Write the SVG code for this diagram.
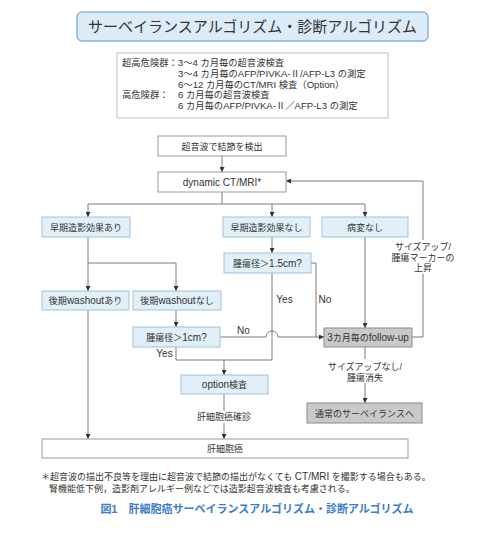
<svg xmlns="http://www.w3.org/2000/svg" width="480" height="538" viewBox="0 0 480 538">
<style>
text{font-family:'Liberation Sans','Noto Sans CJK JP',sans-serif;fill:#333;}
.t{font-size:9px;text-anchor:middle;}
.info{font-size:9.3px;}
.L{font-size:9.6px;}
.l{font-size:10px;}
.lbl{font-size:9px;text-anchor:middle;}
.yn{font-size:10px;text-anchor:middle;}
.w{fill:#fff;stroke:#9a9a9a;stroke-width:1;}
.b{fill:#e1eff9;stroke:#a3c2dc;stroke-width:1;}
.g{fill:#c9c9c9;stroke:#8a8a8a;stroke-width:1;}
.ln{fill:none;stroke:#7a7a7a;stroke-width:1;}
.ar{fill:none;stroke:#7a7a7a;stroke-width:1;marker-end:url(#ah);}
</style>
<defs>
<marker id="ah" viewBox="0 0 6 6" refX="6" refY="3" markerWidth="5" markerHeight="5" markerUnits="userSpaceOnUse" orient="auto">
<path d="M0,0 L6,3 L0,6 Z" fill="#333"/>
</marker>
</defs>
<rect width="480" height="538" fill="#fff"/>

<g id="title">
<rect x="77" y="12" width="351" height="29" rx="5" fill="#dcebf8" stroke="#8ab6dc" stroke-width="1.5"/>
<text x="252.5" y="32" style="font-size:15px;text-anchor:middle;">サーベイランスアルゴリズム・診断アルゴリズム</text>
</g>

<g id="info">
<rect x="117" y="53" width="271" height="65" fill="#fff" stroke="#c0c0c0"/>
<text class="info" x="122" y="66">超高危険群：<tspan class="L">3</tspan>～<tspan class="L">4</tspan> カ月毎の超音波検査</text>
<text class="info" x="178" y="76.8"><tspan class="L">3</tspan>～<tspan class="L">4</tspan> カ月毎の<tspan class="L">AFP/PIVKA-</tspan>Ⅱ<tspan class="L">/AFP-L3</tspan> の測定</text>
<text class="info" x="178" y="87.6"><tspan class="L">6</tspan>～<tspan class="L">12</tspan> カ月毎の<tspan class="L">CT/MRI</tspan> 検査（<tspan class="L">Option</tspan>）</text>
<text class="info" x="122" y="98.4">高危険群：</text>
<text class="info" x="178" y="98.4"><tspan class="L">6</tspan> カ月毎の超音波検査</text>
<text class="info" x="178" y="109.2"><tspan class="L">6</tspan> カ月毎の<tspan class="L">AFP/PIVKA-</tspan>Ⅱ／<tspan class="L">AFP-L3</tspan> の測定</text>
</g>

<g id="connectors">
<line class="ar" x1="222" y1="156" x2="222" y2="172"/>
<polyline class="ln" points="222,192 222,204"/>
<line class="ln" x1="88" y1="204" x2="365" y2="204"/>
<line class="ar" x1="88" y1="204" x2="88" y2="217"/>
<line class="ar" x1="272" y1="204" x2="272" y2="217"/>
<line class="ar" x1="365" y1="204" x2="365" y2="217"/>
<line class="ar" x1="88" y1="237" x2="88" y2="291"/>
<polyline class="ar" points="88,263 176,263 176,291"/>
<line class="ar" x1="272" y1="237" x2="272" y2="253"/>
<polyline class="ln" points="311,263 316,263 316,337"/>
<path class="ar" d="M220,337 L266,337 A6,6 0 0 1 278,337 L324,337"/>
<polyline class="ln" points="272,273 272,360 176,360 176,347"/>
<line class="ar" x1="224" y1="360" x2="224" y2="375"/>
<line class="ar" x1="176" y1="310" x2="176" y2="327"/>
<line class="ar" x1="365" y1="237" x2="365" y2="328"/>
<polyline class="ar" points="412,337 423,337 423,181 286,181"/>
<line class="ar" x1="365" y1="347" x2="365" y2="403"/>
<line class="ar" x1="224" y1="394" x2="224" y2="439"/>
<line class="ar" x1="88" y1="310" x2="88" y2="439"/>
<rect x="390" y="240" width="66" height="34" fill="#fff"/>
<text class="lbl" x="423" y="249.5">サイズアップ/</text>
<text class="lbl" x="423" y="260.5">腫瘍マーカーの</text>
<text class="lbl" x="423" y="271">上昇</text>
<rect x="326" y="359" width="78" height="24" fill="#fff"/>
<text class="lbl" x="365" y="369.5">サイズアップなし/</text>
<text class="lbl" x="365" y="380.5">腫瘍消失</text>
<rect x="194" y="411" width="60" height="12" fill="#fff"/>
<text class="lbl" x="224" y="420">肝細胞癌確診</text>
<text class="yn" x="284.5" y="303">Yes</text>
<text class="yn" x="325" y="303">No</text>
<text class="yn" x="243.5" y="334">No</text>
<text class="yn" x="164.5" y="357">Yes</text>
</g>

<g id="n1"><rect class="w" x="158" y="136" width="128" height="20"/><text class="t" x="222" y="149.5">超音波で結節を検出</text></g>
<g id="n2"><rect class="w" x="158" y="172" width="128" height="20"/><text class="t" x="222" y="185.5" style="font-size:10px;">dynamic CT/MRI*</text></g>
<g id="n3"><rect class="b" x="42" y="217" width="88" height="20"/><text class="t" x="86" y="230.5">早期造影効果あり</text></g>
<g id="n4"><rect class="b" x="223" y="217" width="87" height="20"/><text class="t" x="266.5" y="230.5">早期造影効果なし</text></g>
<g id="n5"><rect class="b" x="322" y="217" width="86" height="20"/><text class="t" x="365" y="230.5">病変なし</text></g>
<g id="n6"><rect class="b" x="224" y="253" width="87" height="20"/><text class="t" x="267.5" y="266.5">腫瘍径＞<tspan class="l">1.5cm?</tspan></text></g>
<g id="n7"><rect class="b" x="42" y="291" width="87" height="19"/><text class="t" x="85.5" y="304">後期<tspan class="l">washout</tspan>あり</text></g>
<g id="n8"><rect class="b" x="133" y="291" width="88" height="19"/><text class="t" x="177" y="304">後期<tspan class="l">washout</tspan>なし</text></g>
<g id="n9"><rect class="b" x="133" y="327" width="87" height="20"/><text class="t" x="176.5" y="340.5">腫瘍径＞<tspan class="l">1cm?</tspan></text></g>
<g id="n10"><rect class="g" x="324" y="328" width="88" height="19"/><text class="t" x="368" y="341"><tspan class="l">3</tspan>カ月毎の<tspan class="l">follow-up</tspan></text></g>
<g id="n11"><rect class="b" x="181" y="375" width="87" height="19"/><text class="t" x="224.5" y="388"><tspan class="l">option</tspan>検査</text></g>
<g id="n12"><rect class="g" x="307" y="403" width="115" height="20"/><text class="t" x="364.5" y="416.5">通常のサーベイランスへ</text></g>
<g id="n13"><rect class="w" x="42" y="439" width="366" height="19"/><text class="t" x="225" y="452">肝細胞癌</text></g>

<g id="notes">
<text x="41" y="480" style="font-size:9px;">＊超音波の描出不良等を理由に超音波で結節の描出がなくても <tspan style="font-size:10px;">CT/MRI</tspan> を撮影する場合もある。</text>
<text x="49" y="491.5" style="font-size:9px;">腎機能低下例，造影剤アレルギー例などでは造影超音波検査も考慮される。</text>
<text x="257" y="513" style="font-size:11px;font-weight:bold;fill:#3a7dc9;text-anchor:middle;">図1　肝細胞癌サーベイランスアルゴリズム・診断アルゴリズム</text>
</g>
</svg>
